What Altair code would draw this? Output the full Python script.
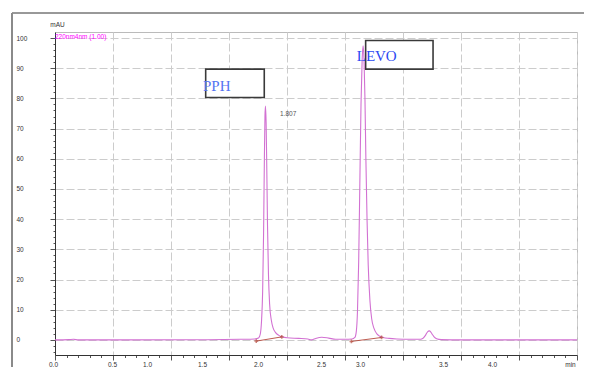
import altair as alt
import pandas as pd

# ---- chromatogram trace (time in min, absorbance in mAU) ----
time_min = [0.00, 0.12, 0.16, 0.20, 0.60, 1.20, 1.60, 1.72, 1.755, 1.77, 1.78, 1.79, 1.798, 1.805,
            1.81, 1.814, 1.82, 1.826, 1.832, 1.84, 1.85, 1.865, 1.88, 1.90, 1.93, 1.96, 2.00, 2.10,
            2.18, 2.21, 2.24, 2.30, 2.36, 2.42, 2.50, 2.56, 2.585, 2.598, 2.608, 2.618, 2.628, 2.638,
            2.648, 2.656, 2.664, 2.672, 2.68, 2.69, 2.70, 2.715, 2.73, 2.75, 2.775, 2.80, 2.83, 2.88,
            2.95, 3.05, 3.14, 3.17, 3.195, 3.212, 3.226, 3.24, 3.255, 3.27, 3.29, 3.33, 3.50, 4.00, 4.50]
absorb_mau = [0.0, 0.1, 0.2, 0.0, 0.0, 0.05, 0.2, 0.3, 0.6, 2.0, 6.0, 16.0, 35.0, 60.0,
              74.0, 77.5, 72.0, 56.0, 38.0, 22.0, 12.0, 6.5, 4.0, 2.5, 1.5, 1.0, 0.7, 0.5,
              0.3, 0.0, 0.4, 0.9, 0.6, 0.2, 0.2, 0.3, 0.8, 3.0, 10.0, 26.0, 52.0, 78.0,
              93.0, 97.4, 93.0, 80.0, 60.0, 40.0, 25.0, 13.0, 7.0, 3.8, 2.0, 1.2, 0.8, 0.5,
              0.3, 0.2, 0.2, 0.5, 1.6, 2.7, 3.0, 2.6, 1.7, 0.9, 0.4, 0.1, 0.0, 0.0, 0.0]

# ---- integration baselines ----
base_peak = ["PPH", "PPH", "LEVO", "LEVO"]
base_time = [1.735, 1.955, 2.555, 2.815]
base_abs = [-0.4, 1.0, -0.5, 0.8]

# ---- annotation boxes ----
box_names = ["PPH", "LEVO"]
box_t1 = [1.299, 2.678]
box_t2 = [1.804, 3.259]
box_a1 = [80.3, 89.7]
box_a2 = [89.7, 99.2]

# ---- annotation texts ----
name_labels = ["PPH", "LEVO"]
name_t = [1.276, 2.601]
name_a = [84.2, 93.9]
name_colors = ["#5574f2", "#2b48f2"]

rt_label = ["1.807"]
rt_t = [1.94]
rt_a = [75.0]

trace_label = ["220nm4nm (1.00)"]
trace_t = [0.0]
trace_a = [100.0]

# ---- axis ticks ----
x_ticks = [round(i * 0.1, 1) for i in range(46)]
x_label_shift = {0.0: -2, 0.5: -1, 1.0: -24, 1.5: -27, 2.0: -29, 2.5: -24,
                 3.0: -43, 3.5: -18, 4.0: -27, 4.5: -7}
y_ticks = list(range(-4, 101, 2))

FONT = "Liberation Sans"

trace_df = pd.DataFrame({"t": time_min, "a": absorb_mau})
base_df = pd.DataFrame({"peak": base_peak, "t": base_time, "a": base_abs})
box_df = pd.DataFrame({"name": box_names, "t1": box_t1, "t2": box_t2, "a1": box_a1, "a2": box_a2})
name_df = pd.DataFrame({"label": name_labels, "t": name_t, "a": name_a, "c": name_colors})
rt_df = pd.DataFrame({"label": rt_label, "t": rt_t, "a": rt_a})
tr_df = pd.DataFrame({"label": trace_label, "t": trace_t, "a": trace_a})

major_x = "abs(datum.value*2 - round(datum.value*2)) < 0.001"
x_scale = alt.Scale(domain=[0, 4.5], nice=False, zero=False)
y_scale = alt.Scale(domain=[-5, 102], nice=False, zero=False)

x_axis = alt.Axis(
    values=x_ticks,
    tickCount=500,
    title=None,
    grid=True,
    gridDash=[8, 3],
    gridColor="#cccccc",
    gridWidth=1,
    gridOpacity={"condition": {"test": major_x, "value": 1}, "value": 0},
    tickSize={"condition": {"test": major_x, "value": 5}, "value": 2.5},
    tickColor="#555555",
    domainColor="#333333",
    labelExpr=major_x + " ? (datum.value > 4.4 ? 'min' : format(datum.value, '.1f')) : ''",
    labelOffset={
        "condition": [
            {"test": f"abs(datum.value - {k}) < 0.001", "value": v}
            for k, v in x_label_shift.items()
        ],
        "value": 0,
    },
    labelFlush=False,
    labelOverlap=False,
    labelPadding=1,
    labelFont=FONT,
    labelFontSize=6.5,
    labelColor="#333333",
)

y_axis = alt.Axis(
    values=y_ticks,
    tickCount=500,
    title="mAU",
    titleAngle=0,
    titleX=2,
    titleY=-8,
    titleAlign="center",
    titleBaseline="middle",
    titleFont=FONT,
    titleFontSize=6.5,
    titleFontWeight="normal",
    titleColor="#333333",
    grid=True,
    gridDash=[8, 3],
    gridColor="#cccccc",
    gridOpacity={"condition": {"test": "datum.value % 10 === 0", "value": 1}, "value": 0},
    tickSize={"condition": {"test": "datum.value % 10 === 0", "value": 5}, "value": 2},
    tickColor="#555555",
    domainColor="#333333",
    labelExpr="datum.value % 10 === 0 ? datum.value : ''",
    labelAlign="left",
    labelBaseline="middle",
    labelPadding=34,
    labelOverlap=False,
    labelFont=FONT,
    labelFontSize=6.5,
    labelColor="#333333",
)

boxes = alt.Chart(box_df).mark_rect(fill="white", stroke="#3a3a3a", strokeWidth=1.6).encode(
    x=alt.X("t1:Q", scale=x_scale, axis=x_axis),
    x2="t2:Q",
    y=alt.Y("a1:Q", scale=y_scale, axis=y_axis),
    y2="a2:Q",
)

trace = alt.Chart(trace_df).mark_line(color="#d271d2", strokeWidth=1.1, interpolate="monotone").encode(
    x=alt.X("t:Q", scale=x_scale),
    y=alt.Y("a:Q", scale=y_scale),
)

baselines = alt.Chart(base_df).mark_line(color="#b4483c", strokeWidth=0.9).encode(
    x="t:Q", y="a:Q", detail="peak:N"
)
base_marks = alt.Chart(base_df).mark_point(shape="cross", filled=True, size=14, color="#b4483c").encode(
    x="t:Q", y="a:Q"
)

names = alt.Chart(name_df).mark_text(
    font="Liberation Serif", fontSize=15, align="left", baseline="middle"
).encode(
    x="t:Q", y="a:Q", text="label:N", color=alt.Color("c:N", scale=None)
)

rt_text = alt.Chart(rt_df).mark_text(
    font=FONT, fontSize=6.5, align="left", baseline="middle", color="#555555"
).encode(x="t:Q", y="a:Q", text="label:N")

tr_text = alt.Chart(tr_df).mark_text(
    font=FONT, fontSize=6.5, align="left", baseline="middle", color="#ff00ff", dy=-1
).encode(x="t:Q", y="a:Q", text="label:N")

frame_top = alt.Chart(pd.DataFrame({"d": [0]})).mark_rule(color="#333333", strokeWidth=1).encode(
    x=alt.value(-43), x2=alt.value(537), y=alt.value(-19)
)
frame_left = alt.Chart(pd.DataFrame({"d": [0]})).mark_rule(color="#8a8a8a", strokeWidth=2).encode(
    x=alt.value(-43), y=alt.value(-19), y2=alt.value(336)
)

chart = alt.layer(
    boxes, trace, baselines, base_marks, names, rt_text, tr_text, frame_top, frame_left
).properties(
    width=522,
    height=323,
    autosize=alt.AutoSizeParams(type="none"),
    padding={"left": 47, "top": 24, "right": 7, "bottom": 12},
    background="white",
).configure_view(
    stroke="#bbbbbb", strokeWidth=1
)

chart.save("out.html", embed_options={"renderer": "svg", "actions": False})
